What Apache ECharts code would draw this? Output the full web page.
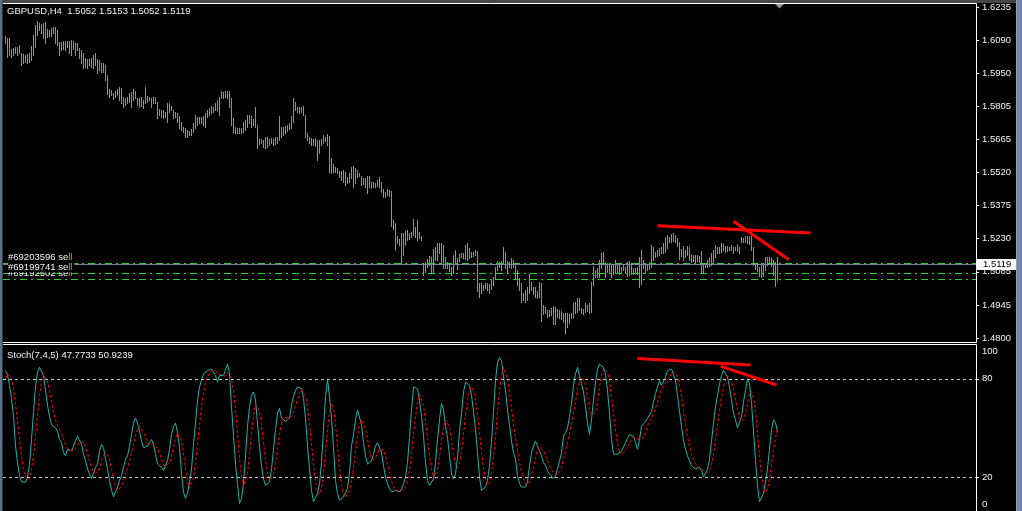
<!DOCTYPE html>
<html><head><meta charset="utf-8">
<script src="https://cdn.jsdelivr.net/npm/echarts@6/dist/echarts.min.js"></script>
<style>html,body{margin:0;padding:0;background:#000;overflow:hidden}#c{width:1022px;height:511px}</style>
</head><body><div id="c"></div>
<script>
// ---- data (GBPUSD H4 bars, one per bar index) ----
const highs=[1.6111,1.6102,1.6102,1.6054,1.6058,1.6063,1.6063,1.6071,1.6037,1.6033,
1.6028,1.6033,1.6037,1.6067,1.6115,1.6158,1.6176,1.6167,1.6163,1.6167,
1.6171,1.6141,1.6137,1.6145,1.6150,1.6150,1.6137,1.6085,1.6085,1.6089,
1.6089,1.6089,1.6089,1.6093,1.6089,1.6080,1.6080,1.6058,1.6050,1.6037,
1.6015,1.6011,1.6011,1.6015,1.6028,1.6037,1.6011,1.6007,1.5994,1.5994,
1.5985,1.5941,1.5881,1.5876,1.5863,1.5872,1.5881,1.5889,1.5885,1.5846,
1.5842,1.5846,1.5863,1.5868,1.5881,1.5872,1.5842,1.5842,1.5846,1.5833,
1.5889,1.5850,1.5846,1.5842,1.5846,1.5846,1.5824,1.5794,1.5790,1.5790,
1.5781,1.5820,1.5820,1.5807,1.5790,1.5781,1.5777,1.5764,1.5738,1.5716,
1.5712,1.5703,1.5699,1.5707,1.5733,1.5768,1.5759,1.5759,1.5759,1.5764,
1.5777,1.5790,1.5798,1.5807,1.5803,1.5820,1.5833,1.5846,1.5872,1.5868,
1.5872,1.5872,1.5872,1.5842,1.5755,1.5716,1.5712,1.5712,1.5712,1.5738,
1.5746,1.5768,1.5768,1.5764,1.5751,1.5803,1.5725,1.5664,1.5664,1.5660,
1.5673,1.5673,1.5664,1.5668,1.5664,1.5673,1.5673,1.5764,1.5716,1.5716,
1.5720,1.5725,1.5733,1.5764,1.5842,1.5824,1.5803,1.5803,1.5803,1.5807,
1.5768,1.5690,1.5673,1.5668,1.5664,1.5668,1.5660,1.5660,1.5664,1.5681,
1.5673,1.5686,1.5677,1.5582,1.5556,1.5543,1.5538,1.5525,1.5525,1.5530,
1.5521,1.5499,1.5517,1.5543,1.5547,1.5538,1.5530,1.5517,1.5504,1.5495,
1.5495,1.5504,1.5504,1.5478,1.5478,1.5473,1.5486,1.5499,1.5478,1.5447,
1.5434,1.5447,1.5443,1.5439,1.5313,1.5300,1.5244,1.5231,1.5257,1.5257,
1.5265,1.5270,1.5257,1.5261,1.5317,1.5283,1.5313,1.5261,1.5244,1.5118,
1.5131,1.5144,1.5157,1.5153,1.5187,1.5196,1.5213,1.5213,1.5213,1.5205,
1.5153,1.5131,1.5127,1.5109,1.5161,1.5183,1.5148,1.5166,1.5170,1.5170,
1.5205,1.5213,1.5192,1.5174,1.5174,1.5183,1.5179,1.5040,1.5040,1.5031,
1.5040,1.5040,1.5036,1.5053,1.5066,1.5109,1.5135,1.5131,1.5135,1.5196,
1.5174,1.5135,1.5131,1.5148,1.5140,1.5122,1.5096,1.5062,1.5040,1.4997,
1.5010,1.5023,1.5079,1.5044,1.5023,1.5023,1.5005,1.5044,1.5040,1.4945,
1.4936,1.4923,1.4923,1.4932,1.4940,1.4936,1.4927,1.4923,1.4919,1.4910,
1.4910,1.4910,1.4906,1.4910,1.4953,1.4958,1.4975,1.4975,1.4932,1.4927,
1.4953,1.4945,1.4953,1.5044,1.5114,1.5096,1.5105,1.5140,1.5170,1.5174,
1.5131,1.5127,1.5118,1.5118,1.5118,1.5140,1.5127,1.5127,1.5109,1.5118,
1.5109,1.5131,1.5135,1.5127,1.5105,1.5105,1.5109,1.5153,1.5183,1.5140,
1.5127,1.5122,1.5131,1.5205,1.5196,1.5174,1.5183,1.5192,1.5196,1.5213,
1.5239,1.5248,1.5239,1.5252,1.5257,1.5248,1.5235,1.5218,1.5187,1.5200,
1.5183,1.5200,1.5196,1.5166,1.5161,1.5161,1.5161,1.5157,1.5179,1.5127,
1.5127,1.5140,1.5153,1.5170,1.5183,1.5205,1.5196,1.5196,1.5213,1.5209,
1.5200,1.5200,1.5196,1.5205,1.5196,1.5196,1.5209,1.5196,1.5239,1.5235,
1.5244,1.5244,1.5244,1.5248,1.5196,1.5127,1.5118,1.5109,1.5127,1.5122,
1.5153,1.5153,1.5153,1.5148,1.5140,1.5131,1.5153];
const lows=[1.6080,1.6020,1.6028,1.6020,1.6028,1.6037,1.6028,1.6037,1.5985,1.5994,
1.5998,1.5994,1.5998,1.6007,1.6028,1.6063,1.6115,1.6137,1.6124,1.6102,
1.6080,1.6106,1.6111,1.6111,1.6124,1.6080,1.6071,1.6028,1.6050,1.6054,
1.6050,1.6063,1.6037,1.6028,1.6054,1.6028,1.6050,1.6015,1.5994,1.5972,
1.5976,1.5972,1.5985,1.5976,1.5972,1.5985,1.5950,1.5963,1.5955,1.5955,
1.5920,1.5859,1.5846,1.5855,1.5837,1.5846,1.5855,1.5833,1.5820,1.5803,
1.5811,1.5820,1.5824,1.5803,1.5833,1.5842,1.5811,1.5803,1.5807,1.5798,
1.5820,1.5824,1.5833,1.5803,1.5820,1.5820,1.5755,1.5768,1.5759,1.5755,
1.5759,1.5738,1.5781,1.5790,1.5755,1.5759,1.5738,1.5712,1.5703,1.5694,
1.5673,1.5673,1.5681,1.5681,1.5694,1.5712,1.5725,1.5733,1.5733,1.5725,
1.5716,1.5759,1.5768,1.5777,1.5781,1.5790,1.5790,1.5768,1.5842,1.5842,
1.5846,1.5842,1.5803,1.5725,1.5694,1.5690,1.5690,1.5690,1.5690,1.5694,
1.5703,1.5716,1.5733,1.5716,1.5725,1.5716,1.5625,1.5642,1.5647,1.5629,
1.5625,1.5629,1.5638,1.5647,1.5638,1.5642,1.5647,1.5660,1.5673,1.5681,
1.5690,1.5699,1.5707,1.5712,1.5738,1.5790,1.5781,1.5777,1.5781,1.5768,
1.5673,1.5660,1.5647,1.5638,1.5638,1.5634,1.5573,1.5603,1.5638,1.5647,
1.5655,1.5638,1.5521,1.5517,1.5521,1.5521,1.5517,1.5499,1.5486,1.5478,
1.5465,1.5473,1.5478,1.5495,1.5456,1.5473,1.5499,1.5504,1.5465,1.5469,
1.5456,1.5430,1.5456,1.5452,1.5456,1.5456,1.5460,1.5456,1.5434,1.5413,
1.5413,1.5421,1.5417,1.5287,1.5274,1.5183,1.5213,1.5205,1.5127,1.5161,
1.5205,1.5226,1.5231,1.5239,1.5248,1.5239,1.5226,1.5235,1.5226,1.5075,
1.5088,1.5109,1.5118,1.5083,1.5088,1.5140,1.5140,1.5170,1.5122,1.5105,
1.5105,1.5105,1.5092,1.5075,1.5083,1.5127,1.5101,1.5135,1.5153,1.5148,
1.5144,1.5140,1.5148,1.5153,1.5157,1.5161,1.5005,1.4979,1.4997,1.5010,
1.5018,1.5010,1.4997,1.5014,1.5031,1.5057,1.5096,1.5109,1.5096,1.5122,
1.5105,1.5088,1.5109,1.5105,1.5109,1.5062,1.5031,1.5010,1.4958,1.4966,
1.4958,1.4966,1.4997,1.5010,1.4992,1.4979,1.4975,1.4979,1.4875,1.4906,
1.4910,1.4893,1.4897,1.4901,1.4862,1.4862,1.4893,1.4888,1.4884,1.4871,
1.4823,1.4849,1.4866,1.4888,1.4893,1.4910,1.4914,1.4923,1.4910,1.4906,
1.4914,1.4919,1.4910,1.4914,1.5031,1.5066,1.5066,1.5066,1.5105,1.5127,
1.5066,1.5088,1.5083,1.5066,1.5079,1.5083,1.5083,1.5079,1.5083,1.5096,
1.5083,1.5070,1.5075,1.5079,1.5079,1.5083,1.5079,1.5023,1.5036,1.5105,
1.5083,1.5096,1.5101,1.5109,1.5140,1.5153,1.5157,1.5161,1.5170,1.5170,
1.5174,1.5192,1.5218,1.5218,1.5222,1.5218,1.5200,1.5144,1.5157,1.5140,
1.5153,1.5161,1.5140,1.5131,1.5135,1.5131,1.5135,1.5131,1.5083,1.5088,
1.5109,1.5109,1.5114,1.5118,1.5127,1.5153,1.5170,1.5170,1.5174,1.5183,
1.5174,1.5179,1.5183,1.5183,1.5170,1.5183,1.5179,1.5170,1.5218,1.5218,
1.5218,1.5213,1.5209,1.5183,1.5118,1.5101,1.5092,1.5070,1.5066,1.5070,
1.5096,1.5118,1.5122,1.5114,1.5075,1.5027,1.5052];
const stochK=[85,82,76,68,57,39,29,21,17,16,17,20,28,43,60,75,84,87,87,82,
73,64,57,52,51,50,48,43,41,35,33,37,36,36,39,42,45,45,40,34,
30,25,22,19,20,26,28,36,40,38,31,25,18,12,8,9,14,18,21,26,
31,33,39,46,53,56,53,48,42,38,39,39,41,43,40,34,28,27,26,24,
27,30,37,46,51,53,47,38,22,11,7,10,17,25,40,53,67,75,79,83,
84,85,86,86,86,82,78,82,83,82,83,89,83,63,45,28,16,4,7,16,
33,51,63,70,72,67,53,39,27,19,15,14,17,25,37,49,59,62,56,55,
54,55,56,64,69,73,75,76,74,68,56,39,25,12,5,5,10,16,29,50,
69,80,69,56,38,18,10,6,5,8,9,13,23,39,46,55,61,60,52,41,
33,28,27,30,34,39,41,41,35,27,20,16,13,11,11,12,11,11,13,16,
20,29,44,61,75,76,74,67,57,45,29,18,15,16,19,29,43,55,65,61,
51,44,33,22,19,22,32,48,59,72,78,79,76,70,60,49,35,20,12,12,
14,18,27,42,60,79,90,93,91,81,73,61,52,42,35,31,21,16,14,13,
14,17,27,35,39,42,41,36,33,29,27,24,22,21,19,21,25,30,35,45,
47,50,57,65,76,83,87,82,77,72,63,53,46,55,67,78,86,89,90,87,
83,73,59,43,34,33,34,35,36,37,41,44,46,47,45,41,37,43,51,52,
54,56,58,60,66,71,75,79,76,77,81,85,86,86,85,79,70,60,51,42,
37,33,30,27,26,25,24,26,24,20,20,25,31,42,53,63,70,77,82,85,
84,81,75,67,59,55,50,50,57,66,73,80,77,65,48,30,15,5,6,10,
17,25,37,49,55,53,47.8];
const stochD=[80,83,83,80,73.6,64.4,53.8,42.8,32.6,24.4,20,18.2,19.6,24.8,33.6,45.2,58,69.8,78.6,83,
82.6,78.6,72.6,65.6,59.4,54.8,51.6,48.8,46.6,43.4,40,37.8,36.4,35.4,36.2,38,39.6,41.4,42.2,41.2,
38.8,34.8,30.2,26,23.2,22.4,23,25.8,30,33.6,34.6,34,30.4,24.8,18.8,14.4,12.2,12.2,14,17.6,
22,25.8,30,35,40.4,45.4,49.4,51.2,50.4,47.4,44,41.2,39.8,40,40.4,39.4,37.2,34.4,31,27.8,
26.4,26.8,28.8,32.8,38.2,43.4,46.8,47,42.2,34.2,25,17.6,13.4,14,19.8,29,40.4,52,62.8,71.4,
77.6,81.2,83.4,84.8,85.4,85,83.6,82.8,82.2,81.4,81.6,83.8,84,80,72.6,61.6,47,31.2,20,14.2,
15.2,22.2,34,46.6,57.8,64.6,65,60.2,51.6,41,30.6,22.8,18.4,18,21.6,28.4,37.4,46.4,52.6,56.2,
57.2,56.4,55.2,56.8,59.6,63.4,67.4,71.4,73.4,73.2,69.8,62.6,52.4,40,27.4,17.2,11.4,9.6,13,22,
34.8,48.8,59.4,64.8,62.4,52.2,38.2,25.6,15.4,9.4,7.6,8.2,11.6,18.4,26,35.2,44.8,52.2,54.8,53.8,
49.4,42.8,36.2,31.8,30.4,31.6,34.2,37,38,36.6,32.8,27.8,22.2,17.4,14.2,12.6,11.6,11.2,11.6,12.6,
14.2,17.8,24.4,34,45.8,57,66,70.6,69.8,63.8,54.4,43.2,32.8,24.6,19.4,19.4,24.4,32.4,42.2,50.6,
55,55.2,50.8,42.2,33.8,28,25.6,28.6,36,46.6,57.8,67.2,72.8,75,72.6,66.8,58,46.8,35.2,25.6,
18.6,15.2,16.6,22.6,32.2,45.2,59.6,72.8,82.6,86.8,85.6,79.8,71.6,61.8,52.6,44.2,36.2,29,23.4,19,
15.6,14.8,17,21.2,26.4,32,36.8,38.6,38.2,36.2,33.2,29.8,27,24.6,22.6,21.4,21.6,23.2,26,31.2,
36.4,41.4,46.8,52.8,59,66.2,73.6,78.6,81,80.2,76.2,69.4,62.2,57.8,56.8,59.8,66.4,75,82,86,
87,84.4,78.4,69,58.4,48.4,40.6,35.8,34.4,35,36.6,38.6,40.8,43,44.6,44.6,43.2,42.6,43.4,44.8,
47.4,51.2,54.2,56,58.8,62.2,66,70.2,73.4,75.6,77.6,79.6,81,83,84.6,84.2,81.2,76,69,60.4,
52,44.6,38.6,33.8,30.6,28.2,26.4,25.6,25,23.8,22.8,23,24,27.6,34.2,42.8,51.8,61,69,75.4,
79.6,81.8,81.4,78.4,73.2,67.4,61.2,56.2,54.2,55.6,59.2,65.2,70.6,72.2,68.6,60,47,32.6,20.8,13.2,
10.6,12.6,19,27.6,36.6,43.8,50.9];
const priceTickLabels=['1.4800','1.4945','1.5085','1.5230','1.5375','1.5520','1.5665','1.5805','1.5950','1.6090','1.6235'];
const priceMin=1.4800, priceMax=1.6235;
const stochTickValues=[3.2,20,80,96.5];
const stochTickLabels=['0','20','80','100'];
const stochLevels=[80,20];
const bidPrice=1.5119;
const orderNames=['#69203596 sell','#69199741 sell','#69192502 sell'];
const orderPrices=[1.5122,1.5079,1.5053];
const priceTrend1=[[326,1.5287],[402.5,1.5255]];
const priceTrend2=[[364,1.5306],[391.5,1.5140]];
const stochTrend1=[[316,92.4],[372.5,88.4]];
const stochTrend2=[[357.5,87.7],[385.5,76.2]];
const mainTitle='GBPUSD,H4  1.5052 1.5153 1.5052 1.5119';
const stochTitle='Stoch(7,4,5) 47.7733 50.9239';

// ---- chart ----
const FONT='"Liberation Sans", Arial, sans-serif';
const FS=9.5;
const chart=echarts.init(document.getElementById('c'),null,{renderer:'canvas'});
const barData=highs.map((h,i)=>[i,h,lows[i]]);
const xRange={min:-1.25,max:485.25};
const interval=(priceMax-priceMin)/10;

function orderLabel(name){
  const base=name.slice(0,name.length-2);
  return base+'{o|ll}';
}
const orderLineStyle={color:'#32cd32',width:1,type:[7,4,2,4]};
const labelBase={show:true,position:'insideStartTop',distance:[5,1.5],color:'#f2f4f8',fontSize:FS,fontFamily:FONT,
  rich:{o:{color:'#f09030',fontSize:FS,fontFamily:FONT}}};

const option={
  backgroundColor:'#000',
  animation:false,
  title:[
    {text:mainTitle,left:7,top:6,padding:0,textStyle:{color:'#f2f4f8',fontSize:FS,fontWeight:'normal',fontFamily:FONT}},
    {text:stochTitle,left:7,top:350,padding:0,textStyle:{color:'#f2f4f8',fontSize:FS,fontWeight:'normal',fontFamily:FONT}}
  ],
  grid:[
    {left:3,right:46,top:7,height:331},
    {left:3,right:46,top:346,height:164}
  ],
  xAxis:[
    {type:'value',gridIndex:0,min:xRange.min,max:xRange.max,show:false,axisLine:{onZero:false}},
    {type:'value',gridIndex:1,min:xRange.min,max:xRange.max,show:false,axisLine:{onZero:false}}
  ],
  yAxis:[
    {type:'value',gridIndex:0,position:'right',min:priceMin,max:priceMax,interval:interval,
     axisLine:{show:false,onZero:false},splitLine:{show:false},
     axisTick:{show:true,length:3,lineStyle:{color:'#ffffff'}},
     axisLabel:{color:'#f2f4f8',fontSize:FS,fontFamily:FONT,margin:6,showMinLabel:true,showMaxLabel:true,
       formatter:v=>priceTickLabels[Math.round((v-priceMin)/interval)]}},
    {type:'value',gridIndex:1,position:'right',min:0,max:100,
     axisLine:{show:false,onZero:false},splitLine:{show:false},
     axisTick:{show:true,length:3,customValues:[20,80],lineStyle:{color:'#ffffff'}},
     axisLabel:{color:'#f2f4f8',fontSize:FS,fontFamily:FONT,margin:6,customValues:stochTickValues,
       formatter:v=>{let k=0,b=1e9;stochTickValues.forEach((t,j)=>{if(Math.abs(t-v)<b){b=Math.abs(t-v);k=j;}});return stochTickLabels[k];}}}
  ],
  graphic:[
    {type:'rect',shape:{x:0,y:0,width:1022,height:3},style:{fill:'#474747'},z:100},
    {type:'rect',shape:{x:0,y:0,width:2.5,height:511},style:{fill:'#5d6f88'},z:100},
    {type:'rect',shape:{x:1016,y:0,width:1,height:511},style:{fill:'#9a9a9a'},z:100},
    {type:'rect',shape:{x:1017,y:0,width:5,height:511},style:{fill:'#6d8bb0'},z:100},
    {type:'polyline',shape:{points:[[3,3.5],[976.5,3.5],[976.5,342.5],[3,342.5]]},style:{stroke:'#ffffff',lineWidth:1,fill:null},z:100},
    {type:'polyline',shape:{points:[[3,344.5],[976.5,344.5],[976.5,511]]},style:{stroke:'#ffffff',lineWidth:1,fill:null},z:100},
    {type:'polygon',shape:{points:[[775,4],[784,4],[779.5,8.5]]},style:{fill:'#8e9aa6'},z:100}
  ],
  series:[
    {type:'custom',name:'bars',xAxisIndex:0,yAxisIndex:0,data:barData,silent:true,z:2,
     encode:{x:0,y:[1,2]},
     renderItem:(p,api)=>{
       const x=api.value(0);
       const a=api.coord([x,api.value(1)]);
       const b=api.coord([x,api.value(2)]);
       return {type:'line',shape:{x1:a[0],y1:Math.round(a[1]),x2:b[0],y2:Math.round(b[1])+1},
         style:{stroke:'#30d530',lineWidth:1}};
     }},
    {type:'line',name:'orders',xAxisIndex:0,yAxisIndex:0,data:[],silent:true,z:3,
     markLine:{silent:true,symbol:'none',animation:false,precision:5,
       data:[
         {yAxis:bidPrice,lineStyle:{color:'#778899',width:1,type:'solid'},
          label:{show:true,position:'end',distance:1,formatter:bidPrice.toFixed(4),color:'#000',backgroundColor:'#ffffff',
            padding:[1,6,0,6],fontSize:FS,fontFamily:FONT}},
         {yAxis:orderPrices[0],lineStyle:orderLineStyle,label:Object.assign({},labelBase,{formatter:orderLabel(orderNames[0])})},
         {yAxis:orderPrices[2],lineStyle:orderLineStyle,label:Object.assign({},labelBase,{formatter:orderLabel(orderNames[2])})},
         {yAxis:orderPrices[1],lineStyle:orderLineStyle,label:Object.assign({},labelBase,{formatter:orderLabel(orderNames[1]),
            backgroundColor:'#000',padding:[1,2,0,0]})}
       ]}},
    {type:'line',name:'trend1',xAxisIndex:0,yAxisIndex:0,data:priceTrend1,showSymbol:false,silent:true,z:5,
     lineStyle:{color:'#ff0000',width:3}},
    {type:'line',name:'trend2',xAxisIndex:0,yAxisIndex:0,data:priceTrend2,showSymbol:false,silent:true,z:5,
     lineStyle:{color:'#ff0000',width:3}},
    {type:'line',name:'K',xAxisIndex:1,yAxisIndex:1,data:stochK.map((v,i)=>[i,v]),showSymbol:false,silent:true,z:3,
     lineStyle:{color:'#20b2aa',width:1},
     markLine:{silent:true,symbol:'none',animation:false,label:{show:false},
       lineStyle:{color:'#c8c8c8',width:1,type:[3,3]},
       data:stochLevels.map(v=>({yAxis:v}))}},
    {type:'line',name:'D',xAxisIndex:1,yAxisIndex:1,data:stochD.map((v,i)=>[i,v]),showSymbol:false,silent:true,z:4,
     lineStyle:{color:'#ff0000',width:1,type:[3,2]}},
    {type:'line',name:'strend1',xAxisIndex:1,yAxisIndex:1,data:stochTrend1,showSymbol:false,silent:true,z:5,
     lineStyle:{color:'#ff0000',width:3}},
    {type:'line',name:'strend2',xAxisIndex:1,yAxisIndex:1,data:stochTrend2,showSymbol:false,silent:true,z:5,
     lineStyle:{color:'#ff0000',width:3}}
  ]
};
chart.setOption(option);
</script>
</body></html>
